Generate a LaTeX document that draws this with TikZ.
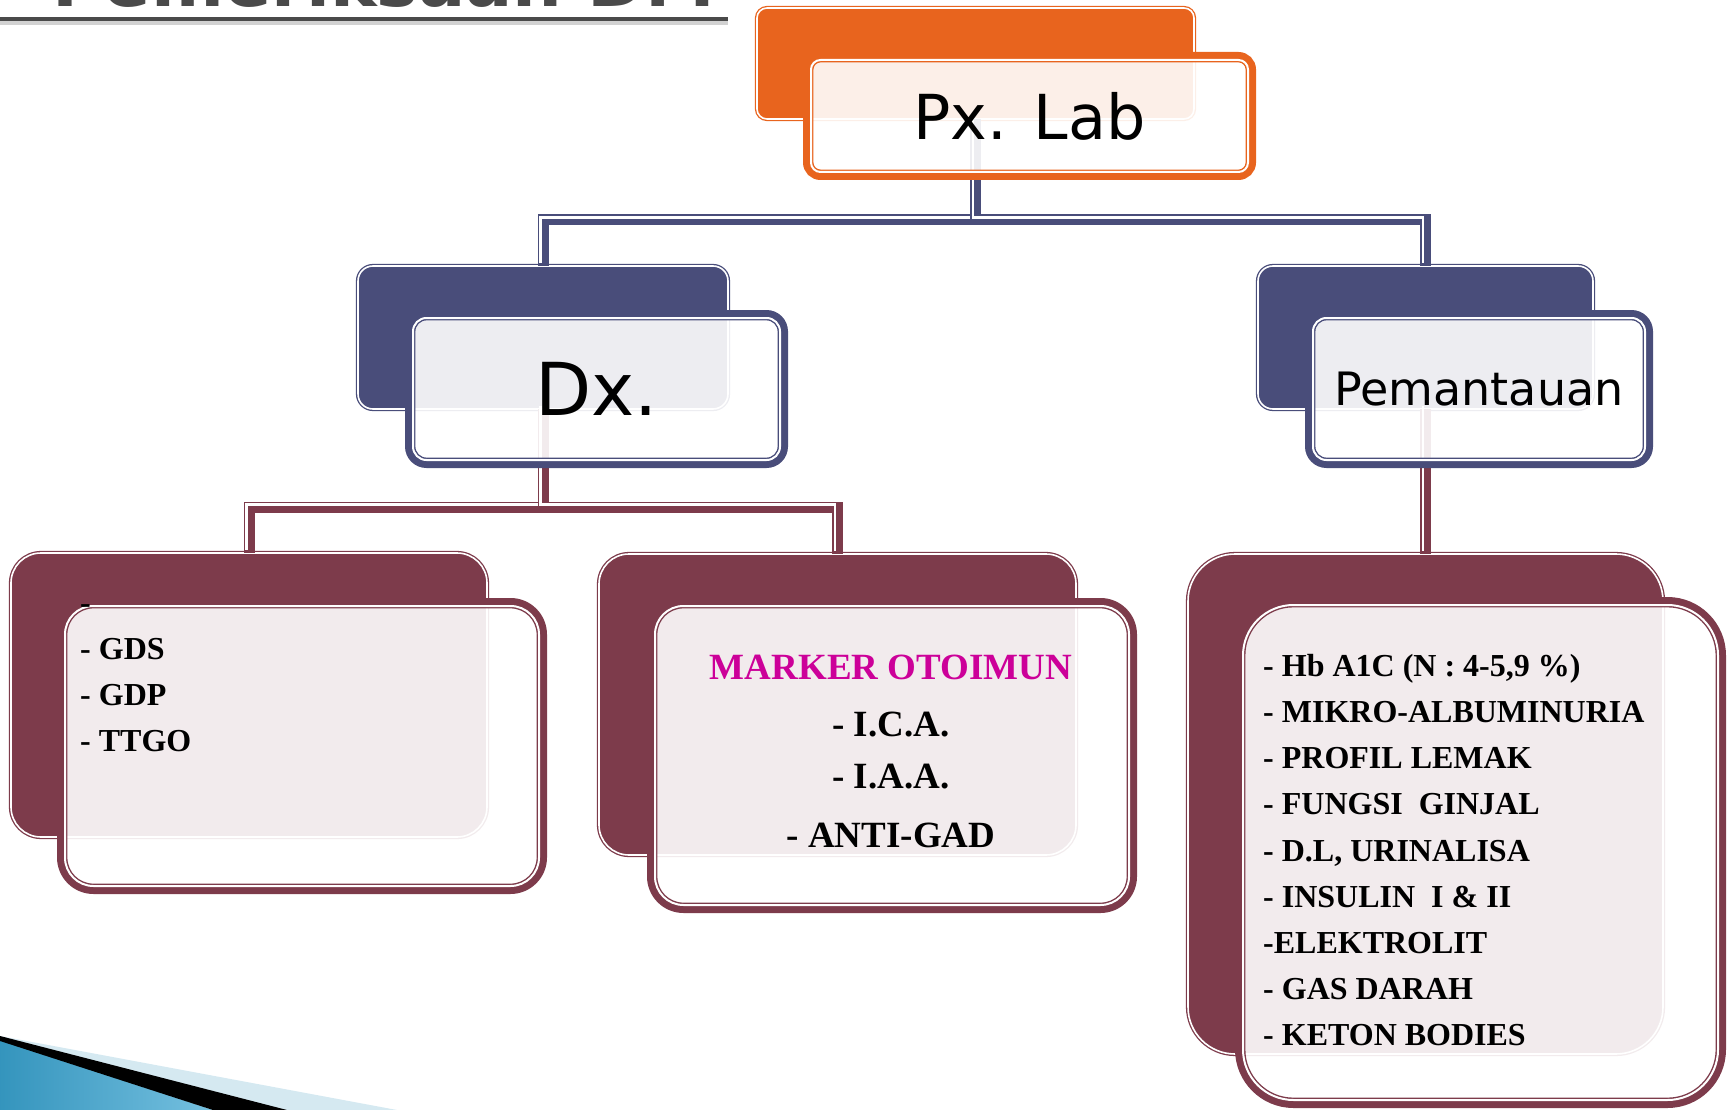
\documentclass[tikz,border=0pt]{standalone}
\usepackage{fontspec}
\setmainfont{Liberation Serif}
\newfontfamily\boxfont{DejaVu Sans}
\usetikzlibrary{positioning, calc}

\definecolor{pxorange}{HTML}{E8641E}
\definecolor{dxnavy}{HTML}{494D7A}
\definecolor{leafred}{HTML}{7D3B4B}
\definecolor{otoimun}{HTML}{CC0099}
\definecolor{titlegray}{HTML}{4A4A4A}
\definecolor{swooshlight}{HTML}{D5E9F1}
\definecolor{swooshblue}{HTML}{3AA5D2}

\newcommand{\sz}[1]{\fontsize{#1}{#1}\selectfont}

\tikzset{
  backbox/.style={rectangle, fill=#1, draw=#1, line width=1.3pt, double=white,
    double distance=1.6pt, inner sep=0pt, outer sep=0pt},
  frontbox/.style={rectangle, draw=#1, line width=7pt, fill=white, fill opacity=0.9,
    text opacity=1, inner sep=0pt, outer sep=0pt},
  innerline/.style={draw=#1, line width=1.4pt, double=white, double distance=2pt},
  link/.style={draw=#1, line width=11pt, postaction={draw=white, line width=2.5pt,
    transform canvas={shift={(-2.7pt,2.7pt)}}}},
  leaftext/.style={font=\bfseries\sz{32}, inner sep=0pt},
}

\begin{document}
\begin{tikzpicture}[x=1pt, y=-1pt]
\useasboundingbox (0,0) rectangle (1727,1110);

% what is left of the slide title
\node[font=\boxfont\bfseries\sz{70}, text=titlegray, anchor=base east, inner sep=0pt] (title) at (715,7) {Pemeriksaan DM};
\draw[gray!35, line width=4pt] (0,23) -- (728,23);
\draw[titlegray, line width=3.5pt] (0,19) -- (728,19);

% corner swoosh
\fill[swooshlight] (0,1036) -- (397,1110) -- (0,1110) -- cycle;
\shade[left color=swooshblue!90!black, right color=swooshblue!70!white] (0,1040) -- (213,1110) -- (0,1110) -- cycle;
\fill[black] (0,1036) -- (287,1110) -- (213,1110) -- (0,1041) -- cycle;

\foreach \N/\C/\x/\y/\w/\h/\r in {lab/pxorange/975.5/63.5/437/111/10,
    dx/dxnavy/543/337.5/370/143/15, pem/dxnavy/1425.5/337.5/335/143/15,
    gds/leafred/249/695/476/284/30, mk/leafred/837.5/704.5/477/301/30,
    hb/leafred/1425.5/804/475/500/47}
  \node[backbox=\C, minimum width=\w pt, minimum height=\h pt, rounded corners=\r pt] (B-\N) at (\x,\y) {};

\draw[link=dxnavy] (B-lab.south) -- ++(0,101) -| (B-dx.north);
\draw[link=dxnavy] (B-lab.south) -- ++(0,101) -| (B-pem.north);
\draw[link=leafred] (B-dx.south) -- ++(0,98) -| (B-gds.north);
\draw[link=leafred] (B-dx.south) -- ++(0,98) -| (B-mk.north);
\draw[link=leafred] (B-pem.south) -- (B-hb.north);

\node[frontbox=pxorange, minimum width=446pt, minimum height=121pt, rounded corners=14pt, font=\boxfont\sz{62}] (F-lab) at (1029.5,116) {Px. Lab};
\node[frontbox=dxnavy, minimum width=376pt, minimum height=151pt, rounded corners=18pt, font=\boxfont\sz{73}] (F-dx) at (596.5,389) {Dx.};
\node[frontbox=dxnavy, minimum width=341pt, minimum height=151pt, rounded corners=18pt, font=\boxfont\sz{46}] (F-pem) at (1479,389) {Pemantauan};
\node[frontbox=leafred, minimum width=483pt, minimum height=289pt, rounded corners=33pt] (F-gds) at (302,746) {};
\node[frontbox=leafred, minimum width=483pt, minimum height=308pt, rounded corners=33pt] (F-mk) at (892,755.5) {};
\node[frontbox=leafred, minimum width=484pt, minimum height=504pt, rounded corners=55pt] (F-hb) at (1480.5,852.5) {};

\foreach \N/\C/\r in {lab/pxorange/9.5, dx/dxnavy/13.5, pem/dxnavy/13.5,
    gds/leafred/28.5, mk/leafred/28.5, hb/leafred/50.5}
  \draw[innerline=\C, rounded corners=\r pt] ([shift={(4.5,4.5)}]F-\N.north west) rectangle ([shift={(-4.5,-4.5)}]F-\N.south east);

\foreach \t [count=\i] in {-, - GDS, - GDP, - TTGO}
  \node[leaftext, anchor=base west] (gds-\i) at (80,567+46*\i) {\t};

\foreach \t/\y [count=\i] in {\textcolor{otoimun}{MARKER OTOIMUN}/679, - I.C.A./736,
    - I.A.A./788, - ANTI-GAD/847}
  \node[leaftext, font=\bfseries\sz{37}, anchor=base] (mk-\i) at (891,\y) {\t};

\foreach \t [count=\i] in {{- Hb A1C (N : 4-5,9 \%)}, - MIKRO-ALBUMINURIA, - PROFIL LEMAK,
    - FUNGSI\ \ GINJAL, {- D.L, URINALISA}, - INSULIN\ \ I \& II, -ELEKTROLIT,
    - GAS DARAH, - KETON BODIES}
  \node[leaftext, anchor=base west] (hb-\i) at (1263,630+46.2*\i) {\t};
\end{tikzpicture}
\end{document}
